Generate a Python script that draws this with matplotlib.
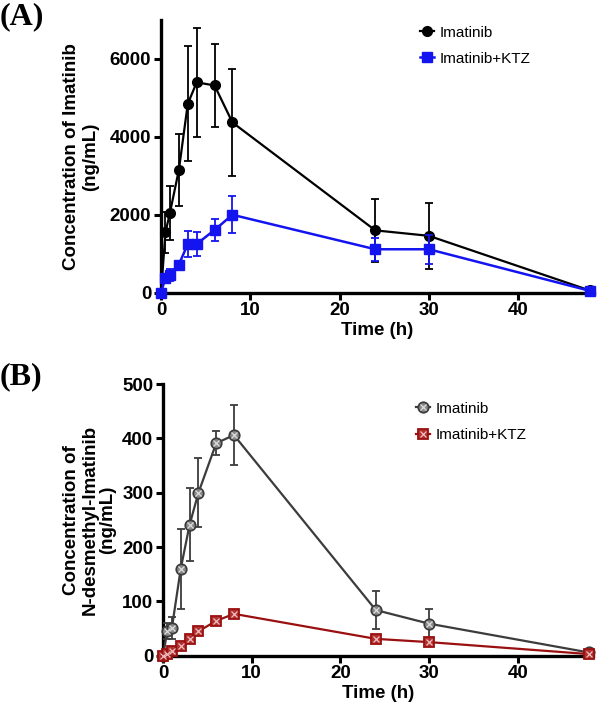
import matplotlib
matplotlib.use("Agg")
import matplotlib.pyplot as plt
from matplotlib.legend_handler import HandlerTuple

plt.rcParams['font.family'] = ['Liberation Sans', 'DejaVu Sans']

time = [0, 0.5, 1, 2, 3, 4, 6, 8, 24, 30, 48]

# Panel A: imatinib concentration (ng/mL)
a_ima = [0, 1550, 2050, 3150, 4850, 5400, 5320, 4370, 1600, 1460, 60]
a_ima_err = [0, 530, 700, 930, 1480, 1400, 1060, 1370, 800, 850, 20]
a_ktz = [0, 380, 450, 720, 1250, 1250, 1610, 2000, 1115, 1115, 50]
a_ktz_err = [0, 100, 150, 100, 330, 320, 290, 470, 290, 370, 10]

# Panel B: N-desmethyl-imatinib concentration (ng/mL)
b_ima = [0, 46, 51, 160, 241, 300, 391, 406, 84, 59, 6]
b_ima_err = [0, 15, 20, 74, 67, 64, 22, 55, 35, 27, 2]
b_ktz = [0, 4, 8, 17, 30, 45, 64, 77, 31, 25, 3]
b_ktz_err = [0, 1, 2, 3, 4, 5, 4, 6, 8, 6, 1]

xticks = [0, 10, 20, 30, 40]
a_yticks = [0, 2000, 4000, 6000]
b_yticks = [0, 100, 200, 300, 400, 500]
legend_labels = ["Imatinib", "Imatinib+KTZ"]

fig = plt.figure(figsize=(5.97, 7.10), dpi=100)

TICK_FS = 13.5
LAB_FS = 13.5

def style_axis(ax, ylim, yticks):
    ax.set_xlim(0, 48.5)
    ax.set_ylim(*ylim)
    ax.set_xticks(xticks)
    ax.set_yticks(yticks)
    for s in ['top', 'right']:
        ax.spines[s].set_visible(False)
    for s in ['left', 'bottom']:
        ax.spines[s].set_linewidth(2.4)
    ax.tick_params(axis='both', width=2.2, length=5, direction='out',
                   labelsize=TICK_FS, pad=2)
    for lab in ax.get_xticklabels() + ax.get_yticklabels():
        lab.set_fontweight('bold')
    ax.set_xlabel("Time (h)", fontsize=LAB_FS, fontweight='bold', labelpad=2)

# ---------- Panel A ----------
axA = fig.add_axes([161/597, 1-292.7/710, 433/597, 272.7/710])
blk = '#000000'
blu = '#1414f0'
axA.errorbar(time, a_ima, yerr=a_ima_err, color=blk, lw=1.6, capsize=3,
             elinewidth=1.3, capthick=1.3, marker='o', ms=7, zorder=3, clip_on=False)
axA.errorbar(time, a_ktz, yerr=a_ktz_err, color=blu, lw=1.8, capsize=3,
             elinewidth=1.3, capthick=1.3, marker='s', ms=7, zorder=4, clip_on=False)
style_axis(axA, (0, 7000), a_yticks)
axA.set_ylabel("Concentration of Imatinib\n(ng/mL)", fontsize=LAB_FS,
               fontweight='bold', labelpad=8, linespacing=1.1)
hA1, = axA.plot([], [], color=blk, marker='o', ms=7, lw=1.6)
hA2, = axA.plot([], [], color=blu, marker='s', ms=7, lw=1.8)
axA.legend([hA1, hA2], legend_labels, loc='upper left',
           bbox_to_anchor=(0.566, 1.03), frameon=False, fontsize=11,
           handlelength=0.9, handletextpad=0.4, labelspacing=0.8)

# ---------- Panel B ----------
axB = fig.add_axes([163/597, 1-655.7/710, 430/597, 271.7/710])
gry = '#3c3c3c'
gfill = '#8a8a8a'
red = '#9a1010'
rfill = '#b03030'
axB.errorbar(time, b_ima, yerr=b_ima_err, color=gry, lw=1.6, capsize=3,
             elinewidth=1.3, capthick=1.3, marker='o', ms=7.5,
             mfc=gfill, mec=gry, mew=1.3, zorder=3, clip_on=False)
axB.plot(time, b_ima, ls='none', marker='x', ms=4.5, mec='#dddddd', mew=0.9,
         zorder=3.5, clip_on=False)
axB.errorbar(time, b_ktz, yerr=b_ktz_err, color=red, lw=1.6, capsize=3,
             elinewidth=1.3, capthick=1.3, marker='s', ms=7,
             mfc=rfill, mec=red, mew=1.3, zorder=4, clip_on=False)
axB.plot(time, b_ktz, ls='none', marker='x', ms=4, mec='#f0c0c0', mew=0.9,
         zorder=4.5, clip_on=False)
style_axis(axB, (0, 500), b_yticks)
axB.set_ylabel("Concentration of\nN-desmethyl-Imatinib\n(ng/mL)", fontsize=LAB_FS,
               fontweight='bold', labelpad=4, linespacing=1.1)
hB1, = axB.plot([], [], color=gry, marker='o', ms=7.5, mfc=gfill, mec=gry, mew=1.3, lw=1.6)
hB1x, = axB.plot([], [], ls='none', marker='x', ms=4.5, mec='#dddddd', mew=0.9)
hB2, = axB.plot([], [], color=red, marker='s', ms=7, mfc=rfill, mec=red, mew=1.3, lw=1.6)
hB2x, = axB.plot([], [], ls='none', marker='x', ms=4, mec='#f0c0c0', mew=0.9)
axB.legend([(hB1, hB1x), (hB2, hB2x)], legend_labels, loc='upper left',
           bbox_to_anchor=(0.556, 0.985), frameon=False, fontsize=11,
           handlelength=0.9, handletextpad=0.4, labelspacing=0.8,
           handler_map={tuple: HandlerTuple(ndivide=1, pad=0)})

# Panel letters
fig.text(0.0, 1-2/710, "(A)", fontsize=23, fontweight='bold',
         family=['Liberation Serif', 'DejaVu Serif'], va='top', ha='left')
fig.text(0.0, 1-362/710, "(B)", fontsize=23, fontweight='bold',
         family=['Liberation Serif', 'DejaVu Serif'], va='top', ha='left')

fig.savefig("out.png", dpi=100)
